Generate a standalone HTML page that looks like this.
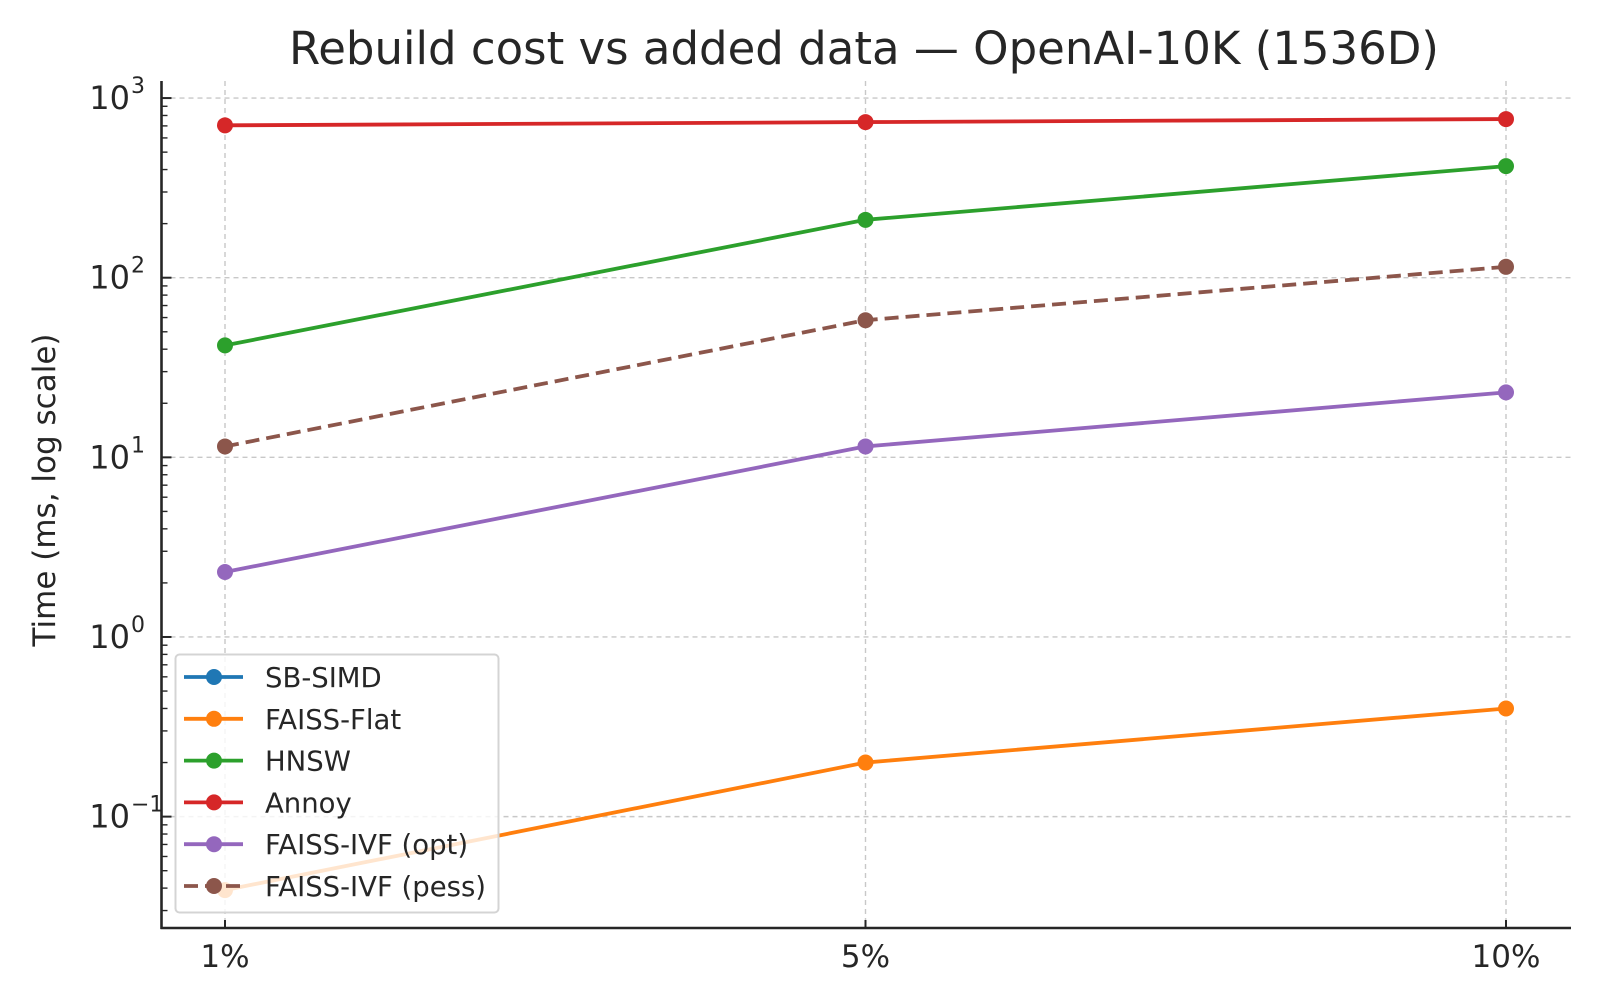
<!DOCTYPE html>
<html><head><meta charset="utf-8"><style>
html,body{margin:0;padding:0;background:#fff;}
svg{display:block;font-family:"DejaVu Sans","Liberation Sans",sans-serif;}
</style></head><body>
<svg id="chart" width="1600" height="1000" viewBox="0 0 1600 1000" xmlns="http://www.w3.org/2000/svg">
<text x="864" y="64" text-anchor="middle" font-size="45" fill="#262626">Rebuild cost vs added data — OpenAI-10K (1536D)</text>
<text transform="translate(55,490) rotate(-90)" text-anchor="middle" font-size="31" fill="#262626">Time (ms, log scale)</text>
<g id="grid"></g>
<g id="series"></g>
<g id="axes"></g>
<g id="legend"></g>
</svg>
<script>
const categories = ["1%", "5%", "10%"];
const seriesNames = ["SB-SIMD", "FAISS-Flat", "HNSW", "Annoy", "FAISS-IVF (opt)", "FAISS-IVF (pess)"];
const sbSimd = [];
const faissFlat = [0.039, 0.2, 0.4];
const hnsw = [42, 210, 418];
const annoy = [705, 735, 764];
const ivfOpt = [2.3, 11.5, 23];
const ivfPess = [11.5, 58, 115];
const yTickExps = [-1, 0, 1, 2, 3];

const colors = ["#1f77b4", "#ff7f0e", "#2ca02c", "#d62728", "#9467bd", "#8c564b"];
const allSeries = [sbSimd, faissFlat, hnsw, annoy, ivfOpt, ivfPess];
const NS = "http://www.w3.org/2000/svg";
const L = 161.5, R = 1571, T = 81, B = 928;
const logMin = -1.62, logMax = 3.095;
function xPos(i){ return 225 + i * (1506 - 225) / (categories.length - 1); }
function yPos(v){ return B - (Math.log10(v) - logMin) / (logMax - logMin) * (B - T); }
function mk(tag, attrs, parent){ const e = document.createElementNS(NS, tag); for (const k in attrs) e.setAttribute(k, attrs[k]); parent.appendChild(e); return e; }

const grid = document.getElementById('grid');
const axes = document.getElementById('axes');
const series = document.getElementById('series');
const legend = document.getElementById('legend');

categories.forEach((c, i) => {
  const g = mk('line', {x1: xPos(i), x2: xPos(i), y1: T, y2: B, stroke: '#c8c8c8', 'stroke-width': 1.4, 'stroke-dasharray': '5,4'}, grid);
  
  
  const t = mk('text', {x: xPos(i), y: 967, 'text-anchor': 'middle', 'font-size': 31, fill: '#262626'}, axes);
  t.textContent = c;
  
  
  const tk = mk('line', {x1: xPos(i), x2: xPos(i), y1: B, y2: B - 8, stroke: '#262626', 'stroke-width': 2}, axes);
  
  
});
yTickExps.forEach(e => {
  const y = yPos(Math.pow(10, e));
  const g = mk('line', {x1: L, x2: R, y1: y, y2: y, stroke: '#c8c8c8', 'stroke-width': 1.4, 'stroke-dasharray': '5,4'}, grid);
  
  
  const tk = mk('line', {x1: L, x2: L + 10, y1: y, y2: y, stroke: '#262626', 'stroke-width': 2}, axes);
  
  
  const t = mk('text', {x: 130, y: y + 11, 'text-anchor': 'end', 'font-size': 32, fill: '#262626'}, axes);
  t.textContent = '10';
  
  
  const s = mk('text', {x: 131, y: y - 5, 'text-anchor': 'start', 'font-size': 22, fill: '#262626'}, axes);
  s.textContent = e < 0 ? '\u2212' + (-e) : String(e);
  
  
});
for (let e = -2; e <= 3; e++) {
  for (let m = 2; m <= 9; m++) {
    const v = m * Math.pow(10, e);
    const lv = Math.log10(v);
    if (lv < logMin || lv > logMax) continue;
    const y = yPos(v);
    const tk = mk('line', {x1: L, x2: L + 6, y1: y, y2: y, stroke: '#262626', 'stroke-width': 1.4}, axes);
    
    
  }
}
const sp1 = mk('line', {x1: L, x2: L, y1: T, y2: B + 1, stroke: '#262626', 'stroke-width': 2.6}, axes);


const sp2 = mk('line', {x1: L - 1, x2: R, y1: B, y2: B, stroke: '#262626', 'stroke-width': 2.6}, axes);



allSeries.forEach((vals, si) => {
  if (!vals.length) return;
  const pts = vals.map((v, i) => xPos(i) + ',' + yPos(v)).join(' ');
  const pl = mk('polyline', {points: pts, fill: 'none', stroke: colors[si], 'stroke-width': 3.8}, series);
  if (si === 5) pl.setAttribute('stroke-dasharray', '14,7');
  
  
  vals.forEach((v, i) => {
    const c = mk('circle', {cx: xPos(i), cy: yPos(v), r: 8, fill: colors[si]}, series);
    
    
  });
});

const box = mk('rect', {x: 175.5, y: 654.5, width: 323, height: 258, rx: 4, fill: 'rgba(255,255,255,0.8)', stroke: '#d4d4d4', 'stroke-width': 2}, legend);


seriesNames.forEach((n, i) => {
  const y = 677 + i * 41.8;
  const ln = mk('line', {x1: 184, x2: 243, y1: y, y2: y, stroke: colors[i], 'stroke-width': 3.8}, legend);
  if (i === 5) ln.setAttribute('stroke-dasharray', '14,7');
  
  
  const c = mk('circle', {cx: 214, cy: y, r: 8, fill: colors[i]}, legend);
  
  
  const t = mk('text', {x: 265, y: y + 10, 'font-size': 27.5, fill: '#262626'}, legend);
  t.textContent = n;
  
  
});
</script>
</body></html>
